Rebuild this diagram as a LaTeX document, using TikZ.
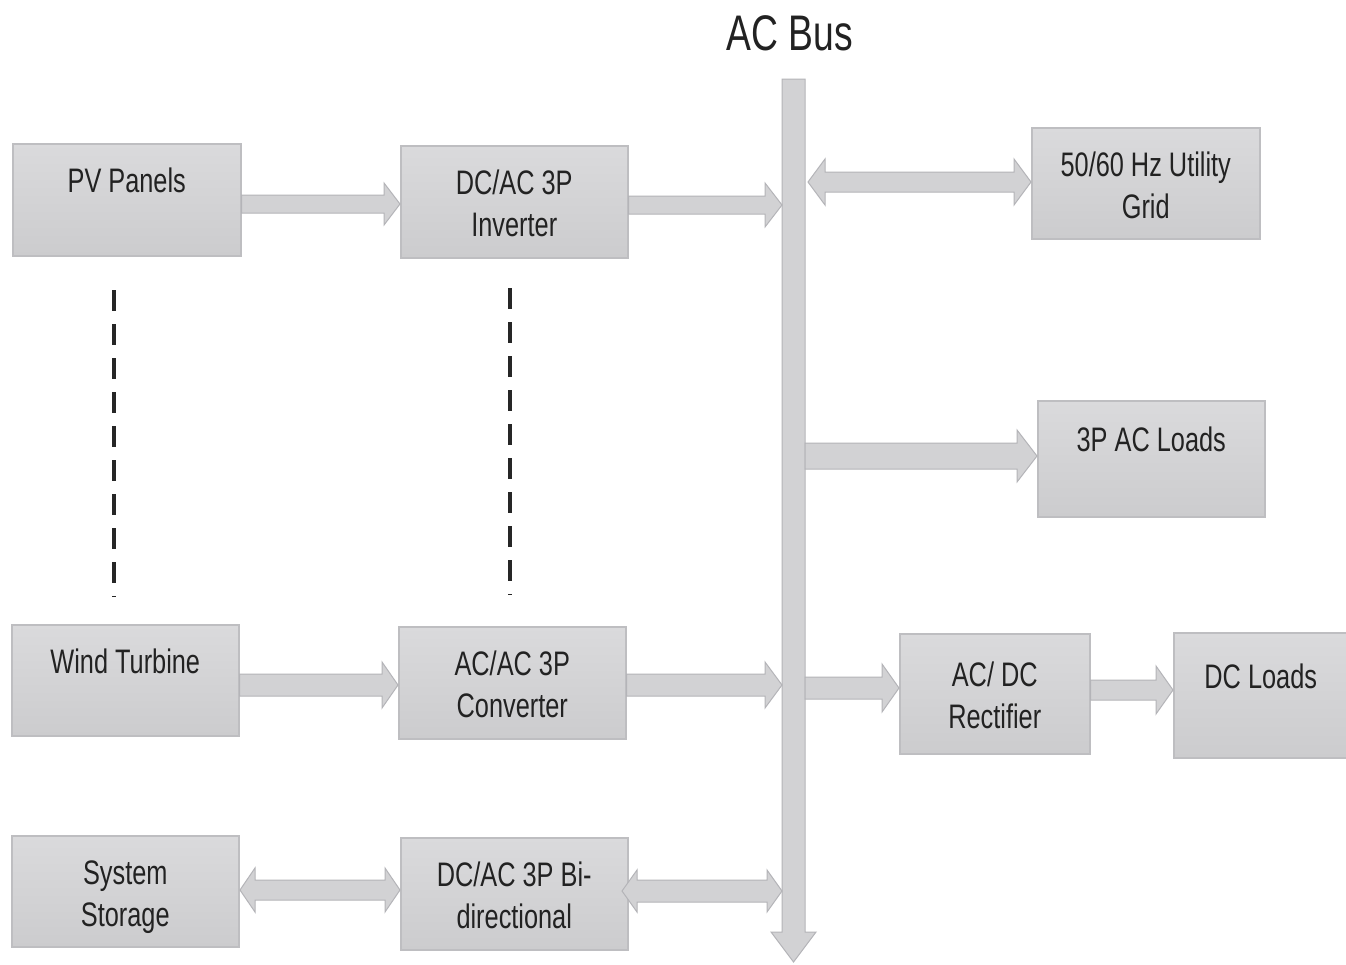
\documentclass[tikz,border=0pt]{standalone}
\usepackage{fontspec}
\setmainfont{Liberation Sans}[FakeStretch=0.745]
\usetikzlibrary{calc}
\definecolor{boxline}{RGB}{190,190,193}
\definecolor{boxtop}{RGB}{218,218,220}
\definecolor{boxbot}{RGB}{204,204,206}
\definecolor{arrfill}{RGB}{210,210,212}
\definecolor{arrline}{RGB}{180,180,184}
\definecolor{txt}{RGB}{34,34,34}
\tikzset{
  box/.style={draw=boxline, line width=1.5pt, top color=boxtop, bottom color=boxbot,
    text=txt, align=center, anchor=north west, inner sep=0pt,
    font=\fontsize{34}{42}\selectfont, text height=25pt, text depth=39pt},
  box2/.style={box, text height=70pt, text depth=0pt},
  barrow/.style={draw=arrline, line width=1pt, fill=arrfill},
  contline/.style={draw=black!85, line width=3.2pt, dash pattern=on 21pt off 13pt}
}
% single block arrow: #1 from, #2 to (x only), #3 shaft half, #4 head half, #5 head length
\newcommand\sarrow[5]{%
  \draw[barrow] let \p1=(#1), \p2=(#2) in
   (\x1,\y1+#3pt) -- (\x2-#5pt,\y1+#3pt) -- (\x2-#5pt,\y1+#4pt) -- (\x2,\y1)
   -- (\x2-#5pt,\y1-#4pt) -- (\x2-#5pt,\y1-#3pt) -- (\x1,\y1-#3pt) -- cycle;}
% double block arrow
\newcommand\darrow[5]{%
  \draw[barrow] let \p1=(#1), \p2=(#2) in
   (\x1,\y1) -- (\x1+#5pt,\y1+#4pt) -- (\x1+#5pt,\y1+#3pt)
   -- (\x2-#5pt,\y1+#3pt) -- (\x2-#5pt,\y1+#4pt) -- (\x2,\y1)
   -- (\x2-#5pt,\y1-#4pt) -- (\x2-#5pt,\y1-#3pt)
   -- (\x1+#5pt,\y1-#3pt) -- (\x1+#5pt,\y1-#4pt) -- cycle;}
\begin{document}
\begin{tikzpicture}[x=1pt,y=-1pt]
\useasboundingbox (0,0) rectangle (1346,964);
\fill[white] (0,0) rectangle (1346,964);

% title
\node[text=txt, font=\fontsize{50}{60}\selectfont, inner sep=0pt] (title) at (790,33) {AC Bus};

% bus
\coordinate (busL) at (782,500);
\coordinate (busR) at (805,500);
\coordinate (busTop) at (793.5,79);
\coordinate (busEnd) at (793.5,962);
\draw[barrow] (782,79) -- (782,932) -- (771,932) -- (busEnd) -- (816,932) -- (805,932) -- (805,79) -- cycle;

% boxes
\node[box, minimum width=228pt, minimum height=112pt] (pv) at (12,143) {PV Panels};
\node[box2, minimum width=227pt, minimum height=112pt] (inv) at (400,145) {DC/AC 3P\\Inverter};
\node[box2, minimum width=228pt, minimum height=111pt] (grid) at (1031,127) {50/60 Hz Utility\\Grid};
\node[box, minimum width=227pt, minimum height=116pt] (acl) at (1037,400) {3P AC Loads};
\node[box2, minimum width=190pt, minimum height=120pt] (rect) at (899,633) {AC/ DC\\Rectifier};
\node[box, minimum width=174pt, minimum height=125pt] (dcl) at (1173,632) {DC Loads};
\node[box, minimum width=227pt, minimum height=111pt] (wind) at (11,624) {Wind Turbine};
\node[box2, minimum width=227pt, minimum height=112pt] (conv) at (398,626) {AC/AC 3P\\Converter};
\node[box2, minimum width=227pt, minimum height=111pt] (stor) at (11,835) {System\\Storage};
\node[box2, minimum width=227pt, minimum height=112pt] (bidir) at (400,837) {DC/AC 3P Bi-\\directional};

% continuation marks
\coordinate (d1a) at (114,290); \coordinate (d1b) at (114,597);
\coordinate (d2a) at (510,288); \coordinate (d2b) at (510,595);
\draw[contline] (d1a) -- (d1b);
\draw[contline] (d2a) -- (d2b);

% arrows
\sarrow{pv.east |- 0,204}{inv.west}{9}{21}{16}
\sarrow{inv.east |- 0,205}{busL}{9}{22}{17}
\darrow{808,182}{grid.west}{10}{23}{17}
\sarrow{busR |- 0,456}{acl.west}{13}{26}{20}
\sarrow{wind.east |- 0,685}{conv.west}{11}{23}{16}
\sarrow{conv.east |- 0,685}{busL}{11}{23}{17}
\sarrow{busR |- 0,688}{rect.west}{11}{24}{17}
\sarrow{rect.east |- 0,690}{dcl.west}{10}{24}{17}
\darrow{240,890}{bidir.west}{10}{22}{15}
\darrow{622,891}{busL}{11}{21}{15}
\end{tikzpicture}
\end{document}
